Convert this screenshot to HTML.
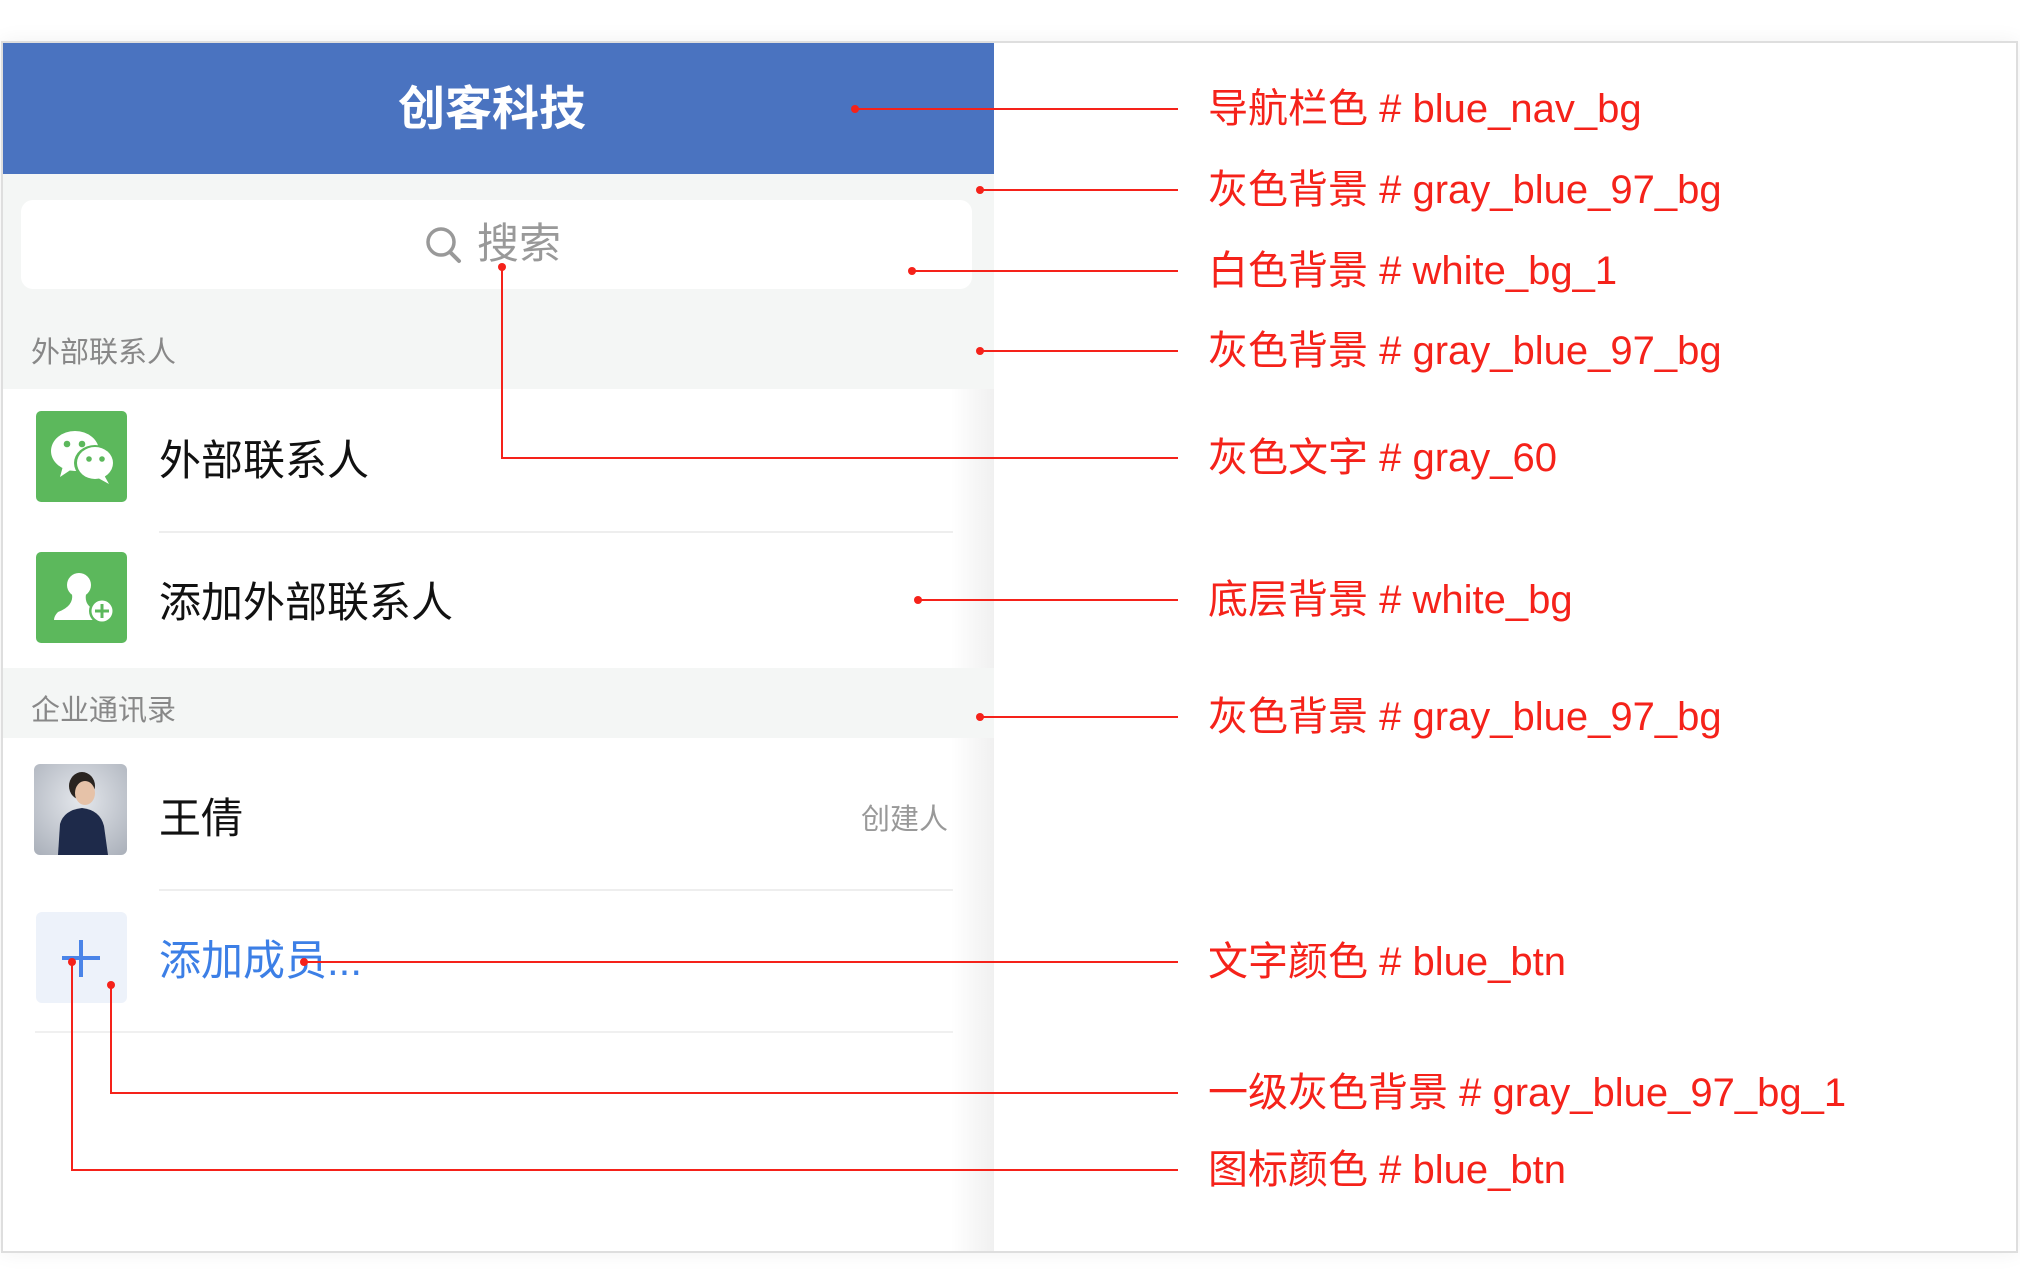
<!DOCTYPE html>
<html><head><meta charset="utf-8">
<style>
*{margin:0;padding:0;box-sizing:border-box}
body{width:2020px;height:1280px;background:#fff;position:relative;overflow:hidden;font-family:"Liberation Sans","Noto Sans CJK SC",sans-serif}
.a{position:absolute}
.t{position:absolute;white-space:nowrap;line-height:1}
.lbl{position:absolute;white-space:nowrap;line-height:1;color:#f5221a;font-size:40px;left:1208px}
</style></head><body>
<!-- outer frame -->
<div class="a" style="left:1px;top:41px;width:2017px;height:1212px;border:2px solid #dedede;box-shadow:0 0 20px rgba(0,0,0,0.06)"></div>
<!-- left phone panel -->
<div class="a" style="left:3px;top:43px;width:991px;height:1208px;background:#fff"></div>
<div class="a" style="left:950px;top:174px;width:44px;height:1077px;background:linear-gradient(90deg,rgba(0,0,0,0),rgba(0,0,0,0.06))"></div>
<!-- nav -->
<div class="a" style="left:3px;top:43px;width:991px;height:131px;background:#4a73c0"></div>
<div class="t" style="left:398px;top:85px;font-size:47px;font-weight:bold;color:#fff">创客科技</div>
<!-- gray top -->
<div class="a" style="left:3px;top:174px;width:991px;height:215px;background:#f4f6f5"></div>
<div class="a" style="left:21px;top:200px;width:951px;height:89px;background:#fff;border-radius:12px"></div>
<svg class="a" style="left:424px;top:224px" width="40" height="42"><circle cx="17" cy="18" r="13" fill="none" stroke="#999" stroke-width="3.5"/><line x1="26" y1="28" x2="35" y2="37" stroke="#999" stroke-width="4" stroke-linecap="round"/></svg>
<div class="t" style="left:477px;top:223px;font-size:42px;color:#999">搜索</div>
<div class="t" style="left:31px;top:339px;font-size:29px;color:#888">外部联系人</div>
<!-- row 1 -->
<div class="a" style="left:36px;top:411px;width:91px;height:91px;background:#5cb85c;border-radius:5px"></div>
<svg class="a" style="left:36px;top:411px" width="91" height="91">
<ellipse cx="39" cy="40" rx="24" ry="20" fill="#fff"/><path d="M27 55 L24 66 L36 58Z" fill="#fff"/>
<ellipse cx="59" cy="52" rx="21" ry="18" fill="#5cb85c"/>
<ellipse cx="59" cy="52" rx="18" ry="16" fill="#fff"/><path d="M68 64 L73 73 L62 67Z" fill="#fff"/>
<circle cx="31" cy="33" r="3.3" fill="#5cb85c"/><circle cx="46" cy="33" r="3.3" fill="#5cb85c"/>
<circle cx="53" cy="48" r="2.8" fill="#5cb85c"/><circle cx="66" cy="48" r="2.8" fill="#5cb85c"/>
</svg>
<div class="t" style="left:159px;top:440px;font-size:42px;color:#111">外部联系人</div>
<div class="a" style="left:159px;top:531px;width:794px;height:2px;background:#eeeeee"></div>
<!-- row 2 -->
<div class="a" style="left:36px;top:552px;width:91px;height:91px;background:#5cb85c;border-radius:5px"></div>
<svg class="a" style="left:36px;top:552px" width="91" height="91">
<circle cx="43" cy="33" r="12" fill="#fff"/><path d="M36 42 Q38 54 22 60 Q18 64 18 68 L60 68 L60 58 Q48 54 50 42Z" fill="#fff"/>
<circle cx="66" cy="59" r="13" fill="#5cb85c"/><circle cx="66" cy="59" r="10.5" fill="#fff"/>
<rect x="64.5" y="52" width="3" height="14" fill="#5cb85c"/><rect x="59" y="57.5" width="14" height="3" fill="#5cb85c"/>
</svg>
<div class="t" style="left:159px;top:582px;font-size:42px;color:#111">添加外部联系人</div>
<!-- header 2 -->
<div class="a" style="left:3px;top:668px;width:991px;height:70px;background:#f4f6f5"></div>
<div class="t" style="left:31px;top:697px;font-size:29px;color:#888">企业通讯录</div>
<!-- row 3 -->
<div class="a" style="left:34px;top:764px;width:93px;height:91px;border-radius:6px;overflow:hidden;background:radial-gradient(circle at 50% 40%,#e4e7ec,#a9afb9)">
<svg width="93" height="91"><ellipse cx="48" cy="22" rx="13" ry="14" fill="#2a2420"/><ellipse cx="51" cy="29" rx="10" ry="12" fill="#e6c2a8"/><path d="M24 91 L26 60 Q30 46 48 44 Q66 46 70 62 L74 91Z" fill="#1e2a4a"/></svg></div>
<div class="t" style="left:159px;top:798px;font-size:42px;color:#111">王倩</div>
<div class="t" style="left:861px;top:806px;font-size:29px;color:#999">创建人</div>
<div class="a" style="left:159px;top:889px;width:794px;height:2px;background:#eeeeee"></div>
<!-- row 4 -->
<div class="a" style="left:36px;top:912px;width:91px;height:91px;background:#edf2fa;border-radius:6px"></div>
<div class="a" style="left:79px;top:940px;width:4px;height:37px;background:#4a84e8"></div>
<div class="a" style="left:62px;top:956px;width:38px;height:4px;background:#4a84e8"></div>
<div class="t" style="left:159px;top:940px;font-size:42px;color:#3c7fe6">添加成员...</div>
<div class="a" style="left:35px;top:1031px;width:918px;height:2px;background:#f0f0f0"></div>

<!-- annotation lines -->
<svg class="a" style="left:0;top:0" width="2020" height="1280">
<g stroke="#f5221a" stroke-width="2" fill="none">
<line x1="855" y1="109" x2="1178" y2="109"/>
<line x1="980" y1="190" x2="1178" y2="190"/>
<line x1="912" y1="271" x2="1178" y2="271"/>
<line x1="980" y1="351" x2="1178" y2="351"/>
<polyline points="502,267 502,458 1178,458"/>
<line x1="918" y1="600" x2="1178" y2="600"/>
<line x1="980" y1="717" x2="1178" y2="717"/>
<line x1="304" y1="962" x2="1178" y2="962"/>
<polyline points="111,985 111,1093 1178,1093"/>
<polyline points="72,962 72,1170 1178,1170"/>
</g>
<g fill="#f5221a">
<circle cx="855" cy="109" r="4"/><circle cx="980" cy="190" r="4"/><circle cx="912" cy="271" r="4"/><circle cx="980" cy="351" r="4"/>
<circle cx="502" cy="267" r="4"/><circle cx="918" cy="600" r="4"/><circle cx="980" cy="717" r="4"/><circle cx="304" cy="962" r="4"/>
<circle cx="111" cy="985" r="4"/><circle cx="72" cy="962" r="4"/>
</g>
</svg>
<div class="lbl" style="top:89px">导航栏色 # blue_nav_bg</div>
<div class="lbl" style="top:170px">灰色背景 # gray_blue_97_bg</div>
<div class="lbl" style="top:251px">白色背景 # white_bg_1</div>
<div class="lbl" style="top:331px">灰色背景 # gray_blue_97_bg</div>
<div class="lbl" style="top:438px">灰色文字 # gray_60</div>
<div class="lbl" style="top:580px">底层背景 # white_bg</div>
<div class="lbl" style="top:697px">灰色背景 # gray_blue_97_bg</div>
<div class="lbl" style="top:942px">文字颜色 # blue_btn</div>
<div class="lbl" style="top:1073px">一级灰色背景 # gray_blue_97_bg_1</div>
<div class="lbl" style="top:1150px">图标颜色 # blue_btn</div>
</body></html>
